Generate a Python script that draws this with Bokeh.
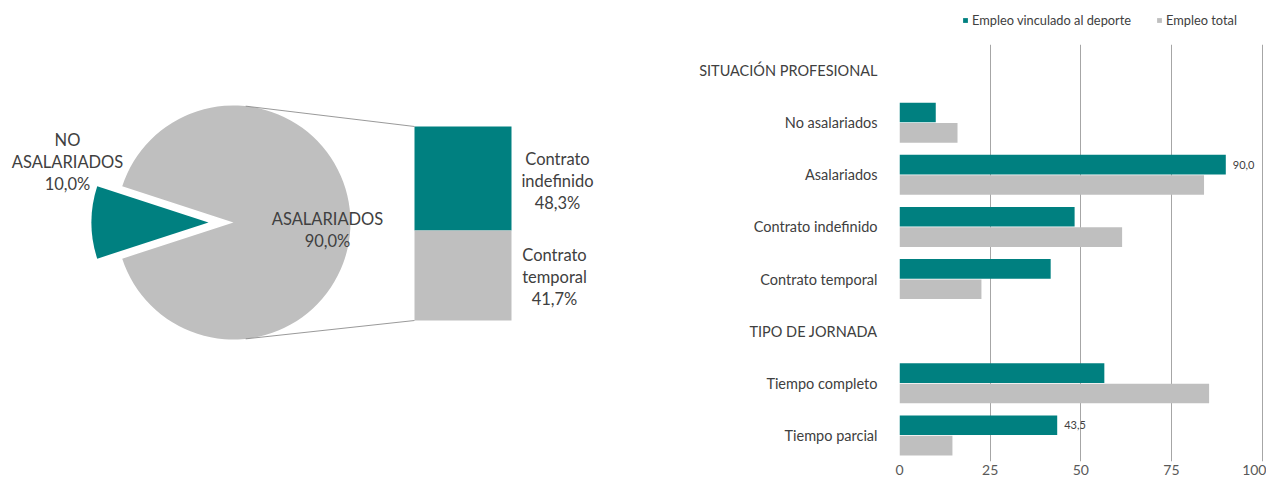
import math
from bokeh.plotting import figure
from bokeh.layouts import row, column
from bokeh.models import ColumnDataSource, FactorRange, Range1d, FixedTicker, Legend, LegendItem
from bokeh.transform import dodge
from bokeh.core.properties import value
from bokeh.embed import file_html
from bokeh.resources import INLINE

# ---------------- data ----------------
pie_labels = ["NO ASALARIADOS", "ASALARIADOS"]
pie_values = [10.0, 90.0]
sub_labels = ["Contrato indefinido", "Contrato temporal"]
sub_values = [48.3, 41.7]

categories = ["SITUACIÓN PROFESIONAL", "No asalariados", "Asalariados",
              "Contrato indefinido", "Contrato temporal", "TIPO DE JORNADA",
              "Tiempo completo", "Tiempo parcial"]
empleo_deporte = [None, 10.0, 90.0, 48.3, 41.7, None, 56.5, 43.5]
empleo_total = [None, 16.0, 84.0, 61.4, 22.6, None, 85.4, 14.6]
labelled = ["Asalariados", "Tiempo parcial"]
series_names = ["Empleo vinculado al deporte", "Empleo total"]

TEAL = "#008080"
GREY = "#BFBFBF"
TXT = "#404040"
FONT = "Lato"

def fmt(v):
    return f"{v:.1f}".replace(".", ",")

# ---------------- pie (bar of pie) ----------------
W1, HT = 640, 477
pf = figure(width=W1, height=HT, x_range=Range1d(0, W1), y_range=Range1d(0, HT),
            output_backend="svg", toolbar_location=None, min_border=0,
            x_axis_location=None, y_axis_location=None)
pf.grid.visible = False
pf.outline_line_color = None

cx, cy, r, explode = 233, 255, 117, 25
tot = sum(pie_values)
a_small = 2 * math.pi * pie_values[0] / tot
s_ang = math.pi - a_small / 2
e_ang = math.pi + a_small / 2
pf.wedge(x=[cx - explode], y=[cy], radius=r, start_angle=s_ang, end_angle=e_ang,
         fill_color=TEAL, line_color=None)
pf.wedge(x=[cx], y=[cy], radius=r, start_angle=e_ang, end_angle=s_ang,
         fill_color=GREY, line_color=None)

# stacked bar of the "ASALARIADOS" slice
bx0, bx1, by0, bh = 414, 511, 157, 194
scale = bh / sum(sub_values)
g_top = by0 + sub_values[1] * scale
t_top = g_top + sub_values[0] * scale
pf.quad(left=[bx0, bx0], right=[bx1, bx1], bottom=[g_top, by0], top=[t_top, g_top],
        fill_color=[TEAL, GREY], line_color=None)

# connector lines
ang = math.radians(84)
pf.segment(x0=[cx + r * math.cos(ang), cx + r * math.cos(ang)],
           y0=[cy + r * math.sin(ang), cy - r * math.sin(ang)],
           x1=[bx0, bx0], y1=[t_top, by0], line_color="#7f7f7f", line_width=0.8)

pie_txt = [pie_labels[0].replace(" ", "\n") + "\n" + fmt(pie_values[0]) + "%",
           pie_labels[1] + "\n" + fmt(pie_values[1]) + "%",
           sub_labels[0].replace(" ", "\n") + "\n" + fmt(sub_values[0]) + "%",
           sub_labels[1].replace(" ", "\n") + "\n" + fmt(sub_values[1]) + "%"]
pf.text(x=[67, 327, 557, 554], y=[316, 248, 297, 201], text=pie_txt,
        text_align="center", text_baseline="middle", text_font=value(FONT),
        text_font_size="16.5px", text_color=TXT, text_line_height=1.1)

# ---------------- legend strip ----------------
W2 = 1266 - W1
LH = 44
lf = figure(width=W2, height=LH, x_range=Range1d(0, 1), y_range=Range1d(0, 1),
            output_backend="svg", toolbar_location=None,
            min_border_left=259, min_border_bottom=0, min_border_top=0, min_border_right=3,
            x_axis_location=None, y_axis_location=None)
lf.grid.visible = False
lf.outline_line_color = None
# legend-only renderers (their bars lie outside the visible range)
d1 = lf.hbar(y=[-5], right=[1], height=0.1, fill_color=TEAL, line_color=None)
d2 = lf.hbar(y=[-5], right=[1], height=0.1, fill_color=GREY, line_color=None)
legend = Legend(items=[LegendItem(label=series_names[0], renderers=[d1]),
                       LegendItem(label=series_names[1], renderers=[d2])],
                orientation="horizontal", location=(63, 16),
                label_text_font=FONT, label_text_font_size="12.8px", label_text_color=TXT,
                glyph_width=6, glyph_height=6, label_standoff=4, spacing=25,
                padding=0, margin=0, border_line_color=None, background_fill_alpha=0)
lf.add_layout(legend)

# ---------------- horizontal bars ----------------
pb = figure(width=W2, height=HT - LH, y_range=FactorRange(*reversed(categories)),
            x_range=Range1d(0, 100.4), output_backend="svg", toolbar_location=None,
            min_border_left=259, min_border_right=3, min_border_top=0, min_border_bottom=2)
pb.outline_line_color = None

rows = [i for i, v in enumerate(empleo_deporte) if v is not None]
src = ColumnDataSource(dict(cat=[categories[i] for i in rows],
                            dep=[empleo_deporte[i] for i in rows],
                            tot=[empleo_total[i] for i in rows]))
pb.hbar(y=dodge("cat", 0.195, range=pb.y_range), right="dep", left=0, height=0.375,
        source=src, fill_color=TEAL, line_color=None)
pb.hbar(y=dodge("cat", -0.195, range=pb.y_range), right="tot", left=0, height=0.375,
        source=src, fill_color=GREY, line_color=None)

lsrc = ColumnDataSource(dict(cat=labelled,
                             v=[empleo_deporte[categories.index(c)] for c in labelled],
                             t=[fmt(empleo_deporte[categories.index(c)]) for c in labelled]))
pb.text(x="v", y=dodge("cat", 0.195, range=pb.y_range), text="t", source=lsrc,
        x_offset=7, text_baseline="middle", text_align="left", text_font=value(FONT),
        text_font_size="11px", text_color=TXT)

ticks = [0, 25, 50, 75, 100]
pb.xaxis.ticker = FixedTicker(ticks=ticks)
pb.xgrid.ticker = FixedTicker(ticks=ticks)
pb.xgrid.grid_line_color = "#a6a6a6"
pb.ygrid.grid_line_color = None
for ax in (pb.xaxis, pb.yaxis):
    ax.axis_line_color = None
    ax.major_tick_line_color = None
    ax.minor_tick_line_color = None
    ax.major_tick_out = 0
    ax.major_tick_in = 0
    ax.major_label_text_font = FONT
    ax.major_label_text_color = TXT
    ax.major_label_text_font_size = "14.5px"
pb.yaxis.major_label_standoff = 22
pb.xaxis.major_label_standoff = 3
pb.xaxis.major_label_text_font_size = "14px"
pb.xaxis.major_label_text_color = "#595959"

layout = row(pf, column(lf, pb))
open("out.html", "w").write(file_html(layout, INLINE))
